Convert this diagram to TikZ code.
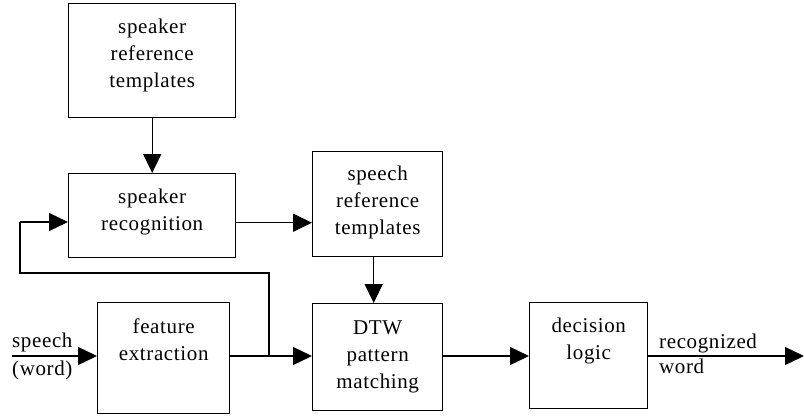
\documentclass[tikz,border=0pt]{standalone}
\usepackage{fontspec}
\setmainfont[LetterSpace=3]{Liberation Serif}
\usetikzlibrary{arrows.meta,calc}
\newcommand{\mylines}[1]{\begin{tabular}[t]{@{}c@{}}#1\end{tabular}}
\tikzset{
  box/.style={draw, line width=1.4pt, inner sep=0pt, anchor=north west},
  txt/.style={anchor=base, inner sep=0pt, font=\fontsize{21}{27}\selectfont},
  arr/.style={line width=1.3pt, -{Triangle[length=19pt,width=18pt]}},
  ln/.style={line width=1.3pt},
}
\begin{document}
\begin{tikzpicture}[x=1pt,y=-1pt]
\fill[white] (0,0) rectangle (804,416);
\useasboundingbox (0,0) rectangle (804,416);
% boxes
\node[box, minimum width=167pt, minimum height=114pt] (A) at (68,3) {};
\node[box, minimum width=167pt, minimum height=84pt] (B) at (68,173) {};
\node[box, minimum width=130pt, minimum height=105pt] (C) at (312,151) {};
\node[box, minimum width=132pt, minimum height=111pt] (D) at (97,302) {};
\node[box, minimum width=130pt, minimum height=107pt] (E) at (312,303) {};
\node[box, minimum width=118pt, minimum height=106pt] (F) at (529,302) {};
% texts
\node[txt] (tA) at ([yshift=-30pt]A.north) {\mylines{speaker\\reference\\templates}};
\node[txt] (tB) at ([yshift=-30pt]B.north) {\mylines{speaker\\recognition}};
\node[txt] (tC) at ([yshift=-29pt]C.north) {\mylines{speech\\reference\\templates}};
\node[txt] (tD) at ([yshift=-31pt]D.north) {\mylines{feature\\extraction}};
\node[txt] (tE) at ([yshift=-31pt]E.north) {\mylines{DTW\\pattern\\matching}};
\node[txt] (tF) at ([yshift=-30pt]F.north) {\mylines{decision\\logic}};
% coordinates
\coordinate (in) at (12,356);
\coordinate (out) at (804,356);
\coordinate (jn) at (269,356);
\coordinate (fbA) at (269,273);
\coordinate (fbB) at (20,273);
\coordinate (fbC) at (20,222);
% connectors
\draw[arr] (A.south) -- (B.north);
\draw[arr] ([yshift=-7pt]B.east) coordinate (b1) -- (b1 -| C.west);
\draw[arr] ([xshift=-4pt]C.south) coordinate (c1) -- (c1 |- E.north);
\draw[arr] (in) -- (in -| D.west);
\draw[arr] (in -| D.east) -- (in -| E.west);
\draw[arr] (in -| E.east) -- (in -| F.west);
\draw[arr] (in -| F.east) -- (out);
\draw[ln] (jn) -- (fbA) -- (fbB) -- (fbC);
\draw[arr] (fbC) -- (fbC -| B.west);
% side labels
\node[txt, anchor=base west] (sp) at (12,347) {speech};
\node[txt, anchor=base west] (wd) at (12,375) {(word)};
\node[txt, anchor=base west] (rc) at (659,348) {recognized};
\node[txt, anchor=base west] (rw) at (659,373) {word};
\end{tikzpicture}
\end{document}
